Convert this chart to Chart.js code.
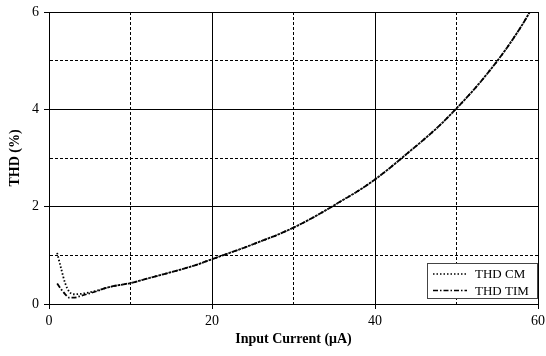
<!DOCTYPE html>
<html>
<head>
<meta charset="utf-8">
<script src="https://cdn.jsdelivr.net/npm/chart.js@4"></script>
<style>
  html, body { margin: 0; padding: 0; background: #fff; }
  #wrap { width: 546px; height: 356px; }
</style>
</head>
<body>
<div id="wrap"><canvas id="myChart" width="546" height="356"></canvas></div>
<script>
// values
let currents = [1, 1.5, 2, 2.5, 3, 4, 5, 6, 7, 8, 9, 10, 12, 14, 16, 18, 20, 22, 24, 26, 28, 30, 32, 34, 36, 38, 40, 42, 44, 46, 48, 50, 52, 54, 56, 58, 59];
let thdCm  = [1.05, 0.72, 0.42, 0.25, 0.2, 0.21, 0.24, 0.28, 0.33, 0.37, 0.40, 0.43, 0.52, 0.61, 0.70, 0.80, 0.92, 1.04, 1.16, 1.29, 1.42, 1.57, 1.74, 1.93, 2.13, 2.33, 2.56, 2.82, 3.10, 3.38, 3.68, 4.02, 4.38, 4.78, 5.22, 5.72, 6.0];
let thdTim = [0.42, 0.30, 0.20, 0.13, 0.13, 0.17, 0.22, 0.27, 0.33, 0.37, 0.40, 0.43, 0.52, 0.61, 0.70, 0.80, 0.92, 1.04, 1.16, 1.29, 1.42, 1.57, 1.74, 1.93, 2.13, 2.33, 2.56, 2.82, 3.10, 3.38, 3.68, 4.02, 4.38, 4.78, 5.22, 5.72, 6.0];
let xLabels = [0, 20, 40, 60];
let yLabels = [0, 2, 4, 6];

let serif = "'Liberation Serif', 'Times New Roman', serif";

function pts(ys) {
    return currents.map(function (x, i) { return {x: x, y: ys[i]}; });
}

// legend box in the bottom right corner of the plot
let boxLegend = {
    id: 'boxLegend',
    afterDraw: function (chart) {
        let ctx = chart.ctx;
        let a = chart.chartArea;
        let w = 110, h = 35;
        let x0 = a.right - 1 - w, y0 = a.bottom - 6 - h;
        ctx.save();
        ctx.fillStyle = '#fff';
        ctx.fillRect(x0, y0, w, h);
        ctx.strokeStyle = '#444';
        ctx.lineWidth = 1;
        ctx.strokeRect(x0 + 0.5, y0 + 0.5, w, h);
        chart.data.datasets.forEach(function (ds, i) {
            let cy = y0 + 11 + i * 16.5;
            ctx.beginPath();
            ctx.setLineDash(ds.borderDash);
            ctx.lineWidth = 1.5;
            ctx.strokeStyle = ds.borderColor;
            ctx.moveTo(x0 + 6, cy);
            ctx.lineTo(x0 + 40, cy);
            ctx.stroke();
            ctx.setLineDash([]);
            ctx.fillStyle = '#000';
            ctx.font = "13px " + serif;
            ctx.textBaseline = 'middle';
            ctx.fillText(ds.label, x0 + 48, cy + 1);
        });
        ctx.restore();
    }
};

let ctx = document.getElementById("myChart").getContext("2d");
let config = {
    type: 'line',
    data: {
        datasets: [
            {
                label: 'THD CM',
                data: pts(thdCm),
                borderColor: '#000',
                borderWidth: 1.8,
                borderDash: [1.5, 2],
                pointRadius: 0,
                cubicInterpolationMode: 'monotone',
                fill: false
            },
            {
                label: 'THD TIM',
                data: pts(thdTim),
                borderColor: '#000',
                borderWidth: 1.8,
                borderDash: [5, 2, 1.5, 2],
                pointRadius: 0,
                cubicInterpolationMode: 'monotone',
                fill: false
            }
        ]
    },
    options: {
        responsive: false,
        animation: false,
        layout: {padding: {top: 12, right: 8, left: 0, bottom: 0}},
        plugins: {legend: {display: false}, tooltip: {enabled: false}},
        scales: {
            x: {
                type: 'linear',
                min: 0,
                max: 60,
                ticks: {
                    stepSize: 10,
                    maxRotation: 0,
                    padding: 4,
                    color: '#000',
                    font: {family: serif, size: 14},
                    callback: function (v) { return xLabels.indexOf(v) >= 0 ? String(v) : ''; }
                },
                grid: {
                    color: '#000',
                    lineWidth: 1,
                    tickLength: 5,
                    tickColor: function (c) { return c.tick && xLabels.indexOf(c.tick.value) >= 0 ? '#000' : 'rgba(0,0,0,0)'; }
                },
                border: {
                    color: '#000',
                    dash: function (c) { return c.tick && xLabels.indexOf(c.tick.value) < 0 ? [3, 2] : []; }
                },
                title: {
                    display: true,
                    text: 'Input Current (\u03bcA)',
                    color: '#000',
                    font: {family: serif, size: 14, weight: 'bold'},
                    padding: {top: 0, bottom: 8}
                },
                afterFit: function (s) { s.height = 52; s.paddingLeft = 0; s.paddingRight = 0; }
            },
            y: {
                min: 0,
                max: 6,
                ticks: {
                    stepSize: 1,
                    padding: 5,
                    color: '#000',
                    font: {family: serif, size: 14},
                    callback: function (v) { return yLabels.indexOf(v) >= 0 ? String(v) : ''; }
                },
                grid: {
                    color: '#000',
                    lineWidth: 1,
                    tickLength: 5,
                    tickColor: function (c) { return c.tick && yLabels.indexOf(c.tick.value) >= 0 ? '#000' : 'rgba(0,0,0,0)'; }
                },
                border: {
                    color: '#000',
                    dash: function (c) { return c.tick && yLabels.indexOf(c.tick.value) < 0 ? [3, 2] : []; }
                },
                title: {
                    display: true,
                    text: 'THD (%)',
                    color: '#000',
                    font: {family: serif, size: 14, weight: 'bold'},
                    padding: {top: 7, bottom: 0}
                },
                afterFit: function (s) { s.width = 49; s.paddingTop = 0; s.paddingBottom = 0; }
            }
        }
    },
    plugins: [boxLegend]
};
window.myChart = new Chart(ctx, config);
</script>
</body>
</html>
